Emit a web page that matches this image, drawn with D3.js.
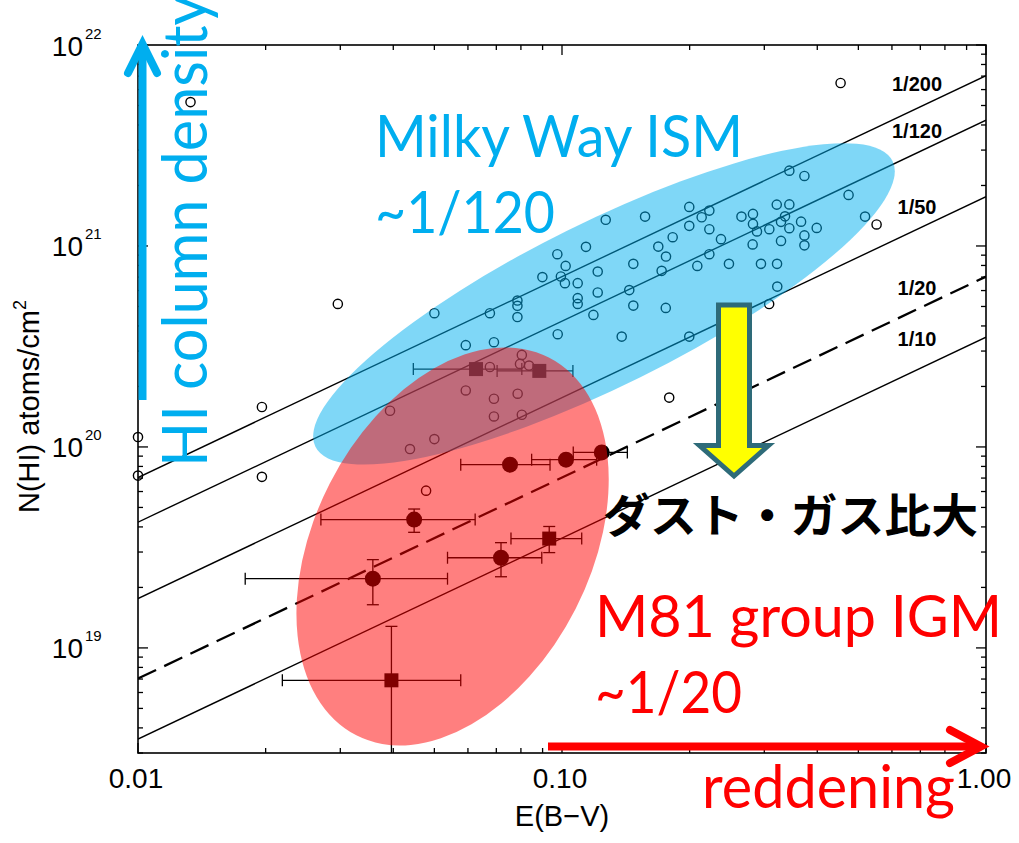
<!DOCTYPE html>
<html>
<head>
<meta charset="utf-8">
<script src="https://cdn.jsdelivr.net/npm/d3@7"></script>
<style>
  body { margin: 0; background: #fff; }
  svg { display: block; }
</style>
</head>
<body>
<script>
// ---- Milky Way sightlines (open circles) ----
const mwEBV = [
  0.0100, 0.0100, 0.0133, 0.0196, 0.0196, 0.0296, 0.454, 0.552, 0.179, 0.308,
  0.0500, 0.0676, 0.0785, 0.0785, 0.0785, 0.0593, 0.0691, 0.0899, 0.0975, 0.1020,
  0.0994, 0.1016, 0.1089, 0.1139, 0.1268, 0.157, 0.1214, 0.1214, 0.1089, 0.1089,
  0.1186, 0.0977, 0.1383, 0.1473, 0.1441, 0.1473, 0.1757, 0.1687, 0.1759, 0.1824,
  0.1718, 0.1996, 0.2135, 0.2226, 0.1996, 0.2226, 0.2371, 0.2226, 0.2085, 0.2476,
  0.265, 0.2821, 0.2821, 0.2883, 0.3083, 0.2816, 0.2946, 0.3215, 0.321, 0.3437,
  0.3357, 0.3285, 0.3437, 0.3663, 0.3988, 0.373, 0.373, 0.3285, 0.3437, 0.373,
  0.4741, 0.5185, 0.3219, 0.1996,
  0.0804, 0.0676, 0.0796, 0.0836, 0.0593, 0.0691, 0.0786, 0.0691, 0.0804, 0.0393,
  0.0500, 0.0438, 0.0478
];
const mwNHI = [
  1.12e20, 7.2e19, 5.2e21, 1.58e20, 7.1e19, 5.15e20, 6.47e21, 1.28e21, 1.76e20, 5.14e20,
  4.63e20, 4.63e20, 5.35e20, 5.04e20, 4.43e20, 3.21e20, 3.32e20, 7.00e20, 9.10e20, 7.96e20,
  7.05e20, 6.53e20, 6.53e20, 9.90e20, 1.35e21, 1.40e21, 7.46e20, 5.87e20, 5.50e20, 5.15e20,
  4.54e20, 3.64e20, 3.54e20, 8.15e20, 6.03e20, 5.05e20, 4.92e20, 9.93e20, 8.86e20, 1.106e21,
  7.52e20, 1.565e21, 1.39e21, 1.50e21, 1.259e21, 1.212e21, 1.081e21, 9.10e20, 7.96e20, 8.15e20,
  1.40e21, 1.444e21, 1.288e21, 1.182e21, 1.212e21, 1.018e21, 8.15e20, 8.15e20, 1.606e21, 1.61e21,
  1.404e21, 1.318e21, 1.226e21, 1.321e21, 1.23e21, 1.129e21, 1.007e21, 1.06e21, 2.37e21, 2.23e21,
  1.795e21, 1.40e21, 6.28e20, 3.54e20,
  2.87e20, 2.50e20, 2.59e20, 2.54e20, 1.91e20, 1.737e20, 1.84e20, 1.418e20, 1.446e20, 1.514e20,
  1.094e20, 9.76e19, 6.06e19
];

// ---- M81 group IGM detections (filled symbols with error bars) ----
const m81Shape = ["square", "square", "square", "square", "circle", "circle", "circle", "circle", "circle", "circle"];
const m81EBV   = [0.0627, 0.0884, 0.0933, 0.0396, 0.1241, 0.1022, 0.0754, 0.0448, 0.0718, 0.0358];
const m81EBVlo = [0.0446, 0.0703, 0.0758, 0.0219, 0.1063, 0.0848, 0.0577, 0.0270, 0.0537, 0.0179];
const m81EBVhi = [0.0804, 0.1061, 0.1113, 0.0577, 0.1426, 0.1207, 0.0937, 0.0624, 0.0896, 0.0537];
const m81NHI   = [2.44e20, 2.39e20, 3.50e19, 6.9e18, 9.39e19, 8.64e19, 8.16e19, 4.35e19, 2.81e19, 2.21e19];
const m81NHIlo = [null, null, 2.98e19, 1.0e18, null, null, null, 3.76e19, 2.26e19, 1.64e19];
const m81NHIhi = [null, null, 4.02e19, 1.28e19, null, null, null, 4.91e19, 3.34e19, 2.75e19];

// ---- constant dust-to-gas ratio lines: N(HI) = k * denom * E(B-V) ----
const ratioDenoms = [200, 120, 50, 20, 10];
const ratioLabels = ["1/200", "1/120", "1/50", "1/20", "1/10"];
const ratioDashed = [false, false, false, true, false];
const nhiPerEbvUnit = 3.52e19;

// ---- axes ----
const xDomain = [0.01, 1];
const yDomain = [3e18, 1e22];
const xTickValues = [0.01, 0.1, 1];
const xTickLabels = ["0.01", "0.10", "1.00"];
const yTickExponents = [19, 20, 21, 22];

// ---- highlighted regions (centres in data units) ----
const regionNames = ["Milky Way ISM", "M81 group IGM"];
const regionEBV = [0.1256, 0.0552];
const regionNHI = [5.15e20, 3.2e19];

const W = 1019, H = 843;
const plot = { left: 138, right: 986, top: 45, bottom: 753 };

const x = d3.scaleLog().domain(xDomain).range([plot.left, plot.right]);
const y = d3.scaleLog().domain(yDomain).range([plot.bottom, plot.top]);

const svg = d3.select("body").append("svg")
  .attr("width", W).attr("height", H)
  .attr("viewBox", `0 0 ${W} ${H}`);

const axisFont = "'Liberation Sans', Arial, Helvetica, sans-serif";
const slideFont = "Lato, 'Open Sans', sans-serif";
const cyan = "#00AEEF";
const red = "#FF0000";

svg.append("defs").append("clipPath").attr("id", "plot-clip")
  .append("rect")
  .attr("x", plot.left).attr("y", plot.top)
  .attr("width", plot.right - plot.left).attr("height", plot.bottom - plot.top);

// ---- frame and inward ticks on all four sides ----
const isMajor = v => Math.abs(Math.log10(v) - Math.round(Math.log10(v))) < 1e-9;
const axes = svg.append("g").attr("stroke", "#000").attr("stroke-width", 1.3);

const xt = x.ticks();
const yt = y.ticks();
axes.selectAll(".xb").data(xt).join("line")
  .attr("x1", d => x(d)).attr("x2", d => x(d))
  .attr("y1", plot.bottom).attr("y2", d => plot.bottom - (isMajor(d) ? 10 : 5));
axes.selectAll(".xt").data(xt).join("line")
  .attr("x1", d => x(d)).attr("x2", d => x(d))
  .attr("y1", plot.top).attr("y2", d => plot.top + (isMajor(d) ? 10 : 5));
axes.selectAll(".yl").data(yt).join("line")
  .attr("y1", d => y(d)).attr("y2", d => y(d))
  .attr("x1", plot.left).attr("x2", d => plot.left + (isMajor(d) ? 10 : 5));
axes.selectAll(".yr").data(yt).join("line")
  .attr("y1", d => y(d)).attr("y2", d => y(d))
  .attr("x1", plot.right).attr("x2", d => plot.right - (isMajor(d) ? 10 : 5));

svg.append("rect")
  .attr("x", plot.left).attr("y", plot.top)
  .attr("width", plot.right - plot.left).attr("height", plot.bottom - plot.top)
  .attr("fill", "none").attr("stroke", "#000").attr("stroke-width", 1.6);

// tick labels
svg.append("g").selectAll("text").data(xTickValues).join("text")
  .attr("x", d => x(d) - 2).attr("y", plot.bottom + 35)
  .attr("text-anchor", "middle")
  .attr("font-family", axisFont).attr("font-size", 28)
  .text((d, i) => xTickLabels[i]);

const yl = svg.append("g").attr("font-family", axisFont);
yl.selectAll(".base").data(yTickExponents).join("text")
  .attr("x", 83).attr("y", d => y(Math.pow(10, d)) + 10.5)
  .attr("text-anchor", "end").attr("font-size", 28)
  .text("10");
yl.selectAll(".exp").data(yTickExponents).join("text")
  .attr("x", 85).attr("y", d => y(Math.pow(10, d)) - 6.5)
  .attr("text-anchor", "start").attr("font-size", 15)
  .text(d => d);

// axis titles
svg.append("text")
  .attr("x", x(0.1)).attr("y", plot.bottom + 73)
  .attr("text-anchor", "middle")
  .attr("font-family", axisFont).attr("font-size", 29)
  .text("E(B\u2212V)");

const yTitle = svg.append("text")
  .attr("transform", "translate(39,513)rotate(-90)")
  .attr("text-anchor", "start")
  .attr("font-family", axisFont).attr("font-size", 29);
yTitle.append("tspan").text("N(HI) atoms/cm");
yTitle.append("tspan").attr("font-size", 18).attr("dy", -13).text("2");

// ---- dust-to-gas ratio lines ----
const lineGen = d3.line().x(d => x(d[0])).y(d => y(d[1]));
const ratioG = svg.append("g").attr("clip-path", "url(#plot-clip)").attr("fill", "none");
ratioG.selectAll("path").data(ratioDenoms).join("path")
  .attr("d", k => lineGen(xDomain.map(e => [e, nhiPerEbvUnit * k * e])))
  .attr("stroke", "#000")
  .attr("stroke-width", (k, i) => ratioDashed[i] ? 2.3 : 1.4)
  .attr("stroke-dasharray", (k, i) => ratioDashed[i] ? "20,9" : null);

// ratio labels, placed just above each line near the right edge
const labelLift = [17, 15, 15, 14, 24];
const labelE = x.invert(917);
svg.append("g").selectAll("text").data(ratioDenoms).join("text")
  .attr("x", 917)
  .attr("y", (k, i) => y(nhiPerEbvUnit * k * labelE) - labelLift[i])
  .attr("text-anchor", "middle")
  .attr("font-family", axisFont).attr("font-weight", "bold").attr("font-size", 20)
  .text((k, i) => ratioLabels[i]);

// ---- Milky Way open circles ----
svg.append("g").selectAll("circle").data(mwEBV).join("circle")
  .attr("cx", d => x(d)).attr("cy", (d, i) => y(mwNHI[i]))
  .attr("r", 4.6)
  .attr("fill", "none").attr("stroke", "#000").attr("stroke-width", 1.4);

// ---- M81 filled symbols with error bars ----
const m81 = m81EBV.map((e, i) => ({
  shape: m81Shape[i], e, elo: m81EBVlo[i], ehi: m81EBVhi[i],
  n: m81NHI[i], nlo: m81NHIlo[i], nhi: m81NHIhi[i]
}));
const eg = svg.append("g").attr("clip-path", "url(#plot-clip)")
  .attr("stroke", "#000").attr("stroke-width", 1.3);
const cap = 6;
m81.forEach(p => {
  const cx = x(p.e), cy = y(p.n);
  eg.append("line").attr("x1", x(p.elo)).attr("x2", x(p.ehi)).attr("y1", cy).attr("y2", cy);
  eg.append("line").attr("x1", x(p.elo)).attr("x2", x(p.elo)).attr("y1", cy - cap).attr("y2", cy + cap);
  eg.append("line").attr("x1", x(p.ehi)).attr("x2", x(p.ehi)).attr("y1", cy - cap).attr("y2", cy + cap);
  if (p.nlo !== null) {
    eg.append("line").attr("x1", cx).attr("x2", cx).attr("y1", y(p.nlo)).attr("y2", y(p.nhi));
    eg.append("line").attr("x1", cx - cap).attr("x2", cx + cap).attr("y1", y(p.nhi)).attr("y2", y(p.nhi));
    eg.append("line").attr("x1", cx - cap).attr("x2", cx + cap).attr("y1", y(p.nlo)).attr("y2", y(p.nlo));
  }
});
const sym = svg.append("g").attr("fill", "#000");
sym.selectAll("circle").data(m81.filter(p => p.shape === "circle")).join("circle")
  .attr("cx", p => x(p.e)).attr("cy", p => y(p.n)).attr("r", 8);
sym.selectAll("rect").data(m81.filter(p => p.shape === "square")).join("rect")
  .attr("x", p => x(p.e) - 7).attr("y", p => y(p.n) - 7)
  .attr("width", 14).attr("height", 14);

// ---- translucent regions ----
const regionStyle = [
  { rx: 322, ry: 82, rot: -26.35, fill: "#00B0F0" },
  { rx: 138, ry: 212, rot: 27, fill: "#FF0000" }
];
svg.append("g").selectAll("ellipse").data(regionNames).join("ellipse")
  .attr("transform", (d, i) => `translate(${x(regionEBV[i])},${y(regionNHI[i])})rotate(${regionStyle[i].rot})`)
  .attr("rx", (d, i) => regionStyle[i].rx)
  .attr("ry", (d, i) => regionStyle[i].ry)
  .attr("fill", (d, i) => regionStyle[i].fill)
  .attr("fill-opacity", 0.5);

// ---- annotations ----
// column density arrow along the y axis
const ax0 = plot.left + 4.5;
svg.append("line")
  .attr("x1", ax0).attr("x2", ax0).attr("y1", 400).attr("y2", plot.top + 2)
  .attr("stroke", cyan).attr("stroke-width", 8);
svg.append("polyline")
  .attr("points", `${ax0 - 14.5},73 ${ax0},44 ${ax0 + 14.5},73`)
  .attr("fill", "none").attr("stroke", cyan).attr("stroke-width", 8)
  .attr("stroke-linecap", "round").attr("stroke-linejoin", "miter");

svg.append("text")
  .attr("transform", "translate(207,467)rotate(-90)")
  .attr("font-family", slideFont).attr("font-size", 61).attr("fill", cyan)
  .attr("textLength", 472).attr("lengthAdjust", "spacingAndGlyphs")
  .text("HI column density");

// reddening arrow along the x axis
const ay0 = plot.bottom - 6.5;
svg.append("line")
  .attr("x1", 548).attr("x2", plot.right - 6).attr("y1", ay0).attr("y2", ay0)
  .attr("stroke", red).attr("stroke-width", 8);
svg.append("polyline")
  .attr("points", `${plot.right - 36},${ay0 - 16.5} ${plot.right - 5},${ay0} ${plot.right - 36},${ay0 + 16.5}`)
  .attr("fill", "none").attr("stroke", red).attr("stroke-width", 8)
  .attr("stroke-linecap", "round").attr("stroke-linejoin", "miter");

svg.append("text")
  .attr("x", 702).attr("y", 808)
  .attr("font-family", slideFont).attr("font-size", 60).attr("fill", red)
  .attr("textLength", 253).attr("lengthAdjust", "spacingAndGlyphs")
  .text("reddening");

// region captions
const captions = [
  { t: "Milky Way ISM", x: 375, y: 157, w: 368, c: cyan },
  { t: "~1/120", x: 375, y: 233, w: 180, c: cyan },
  { t: "M81 group IGM", x: 595, y: 637, w: 407, c: red },
  { t: "~1/20", x: 595, y: 713, w: 147, c: red }
];
svg.append("g").selectAll("text").data(captions).join("text")
  .attr("x", d => d.x).attr("y", d => d.y)
  .attr("font-family", slideFont).attr("font-size", 59).attr("fill", d => d.c)
  .attr("textLength", d => d.w).attr("lengthAdjust", "spacingAndGlyphs")
  .text(d => d.t);

// downward block arrow: larger dust-to-gas ratio
svg.append("path")
  .attr("d", "M718.5,305 L749.5,305 L749.5,445.5 L768.5,445.5 L734,476 L699.5,445.5 L718.5,445.5 Z")
  .attr("fill", "#FFFF00").attr("stroke", "#2E6B79").attr("stroke-width", 5)
  .attr("stroke-linejoin", "miter");

svg.append("text")
  .attr("x", 603).attr("y", 532)
  .attr("font-family", "'Noto Sans CJK JP', sans-serif").attr("font-weight", 700)
  .attr("font-size", 46).attr("fill", "#000")
  .attr("textLength", 375).attr("lengthAdjust", "spacingAndGlyphs")
  .text("ダスト・ガス比大");
</script>
</body>
</html>
